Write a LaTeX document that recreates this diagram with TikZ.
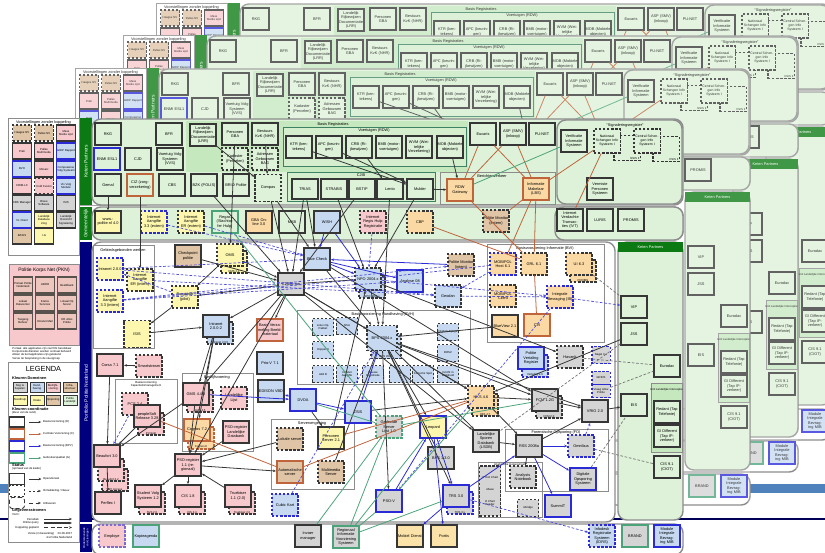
\documentclass[tikz,border=0pt]{standalone}
\usepackage{fontspec}
\setmainfont{Liberation Sans}
\usetikzlibrary{arrows.meta}

% kleuren
\definecolor{kgroen}{HTML}{DDF2D8}
\definecolor{kdonker}{HTML}{C6E8BF}
\definecolor{balkgroen}{HTML}{0B7A12}
\definecolor{navy}{HTML}{00007F}
\definecolor{roze}{HTML}{F7C9CC}
\definecolor{tan}{HTML}{DFC4A6}
\definecolor{geel}{HTML}{FCF6AE}
\definecolor{oranje}{HTML}{FBD9A5}
\definecolor{blauw}{HTML}{C6D9F1}
\definecolor{grijs}{HTML}{D4D4D4}
\definecolor{lijn}{HTML}{363636}
\definecolor{blauwrand}{HTML}{2B2BD6}
\definecolor{bruinrand}{HTML}{C0643C}
\definecolor{groenrand}{HTML}{4BA37A}
\definecolor{kader}{HTML}{8C8C8C}
\definecolor{bandblauw}{HTML}{4F81BD}

\newcommand{\klein}{\fontsize{2.2}{2.6}\selectfont}
\newcommand{\middel}{\fontsize{1.95}{2.3}\selectfont}
\newcommand{\piep}{\fontsize{1.6}{1.9}\selectfont}
\newcommand{\kop}{\fontsize{2.8}{3.2}\selectfont}

\tikzset{
  app/.style={draw=lijn, line width=0.8pt, fill=#1, minimum width=0.52cm,
    minimum height=0.44cm, inner sep=0.3pt, text width=0.5cm, align=center,
    font=\klein},
  app/.default=white,
  kapp/.style={app=#1, minimum width=0.42cm, minimum height=0.34cm, text width=0.4cm,
    line width=0.6pt, font=\piep},
  kapp/.default=blauw,
  vak/.style={draw=lijn, line width=0.7pt, minimum width=0.38cm, minimum height=0.32cm,
    inner sep=0.2pt, text width=0.36cm, align=center, font=\piep},
  swatch/.style={draw=lijn, line width=0.5pt, minimum width=0.28cm, minimum height=0.2cm,
    inner sep=0pt, text width=0.26cm, align=center, font=\piep},
  ontw/.style={dash pattern=on 1.4pt off 0.9pt},
  uitf/.style={dash pattern=on 2.4pt off 1.4pt},
  rblauw/.style={draw=blauwrand},
  rbruin/.style={draw=bruinrand},
  rgroen/.style={draw=groenrand},
  dik/.style={line width=1.1pt},
  groep/.style={draw=kader, line width=0.5pt},
  paneel/.style={draw=kader, line width=0.8pt, rounded corners=5pt},
  titel/.style={font=\klein, inner sep=0.5pt, align=center},
  balktekst/.style={rotate=90, text=white, font=\kop, inner sep=0pt, align=center},
  lz/.style={draw=lijn, line width=0.45pt, -{Stealth[length=1.7pt,width=1.4pt]}},
  lbs/.style={draw=blauwrand, line width=0.45pt, -{Stealth[length=1.7pt,width=1.4pt]}},
  lb/.style={draw=blauwrand!85, line width=0.4pt, dash pattern=on 1.5pt off 1pt,
    -{Stealth[length=1.7pt,width=1.4pt]}},
  lbr/.style={draw=bruinrand, line width=0.45pt},
  lgr/.style={draw=groenrand, line width=0.45pt},
  lgs/.style={draw=black!55, line width=0.4pt, dash pattern=on 1.5pt off 1pt},
}

% doos met schaduwversie erachter
\newcommand{\schaduw}[5]{%
  \node[app=#3, ontw, #4] (#1) at (#2) {};
  \node[titel, font=\piep, anchor=south] (#1t) at (#1.south) {#5};}

% ---- voorstellingen zonder koppeling ----
\newcommand{\kaartvzk}{%
\draw[groep, fill=white] (8,118) rectangle (79,255);
\node[titel] (vzk) at (43.5,122.5) {Voorstellingen zonder koppeling};
\foreach \x/\y/\k/\t in {66/133/roze/Mass Media Lijst, 22/151/roze/Prati, 44/151/roze/Pallas Multimedia,
    44/169/roze/Mosaic, 22/186/roze/CRIM-LC, 22/203/grijs/CBS Manager, 44/203/grijs/Brave Software,
    66/203/grijs/ISIS, 44/220/geel/Landelijk Database Zorg, 66/220/grijs/Landelijk Overzicht Signalering,
    22/236/tan/BASIS, 44/236/geel/I-G}
  \node[vak, fill=\k] (v\x-\y) at (\x,\y) {\t};
\foreach \x/\y/\k/\t in {22/133/tan/Haagse NV, 44/133/tan/Pallas NV, 44/186/roze/Cold Fusion}
  \node[vak, ontw, fill=\k] (v\x-\y) at (\x,\y) {\t};
\foreach \x/\y/\t in {66/151/GRIP Rapport, 22/169/BVH, 66/169/Compusense Volg Systeem,
    66/186/Vis Volg Module, 22/220/VL Client}
  \node[vak, rblauw, fill=blauw] (v\x-\y) at (\x,\y) {\t};
\fill[balkgroen] (80,118) rectangle (92,205);
\node[balktekst] (kpbalk) at (86,161.5) {Keten Partners};
}

% ---- PKN en legenda ----
\newcommand{\kaartlegenda}{%
\draw[groep, fill=roze] (9,264) rectangle (79,345);
\node[titel, font=\kop] (pkn) at (44,270) {Politie Korps Net (PKN)};
\foreach \x/\y/\t in {23/285/Portaal Politie Nederland, 45/285/LIBRO, 67/285/Beeldbank,
    23/303/Lokaal Datacenter, 45/303/Kratos Services, 67/303/Lokaal Op Server,
    23/321/Toegang Beheer, 45/321/Intranet Mail, 67/321/HR Alles Politie}
  \node[vak, fill=roze!60!tan, draw=lijn!80!tan, line width=1pt] (p\x-\y) at (\x,\y) {\t};
\node[titel, font=\piep, align=left] (noot) at (42,353.5)
  {Portaal: alle applicaties zijn via PKN bereikbaar\\ Korps-brede diensten worden centraal beheerd\\
   Alleen de kernapplicaties zijn getekend\\ Versie ter bespreking in de stuurgroep};
\draw[groep, fill=white] (8,362) rectangle (79,542);
\node[font=\fontsize{4.2}{4.6}\selectfont] (leg) at (43.5,369) {LEGENDA};
\node[titel, anchor=west] (legk) at (11,378) {\textbf{Kleuren Domeinen}};
\foreach \x/\y/\k/\t in {20/387/grijs/Nog te bepalen, 37/387/blauw/Hand\-having, 53/387/roze/Bedrijfs\-voering,
    70/387/tan/Infra\-structuur, 20/400/geel/Noodhulp, 37/400/geel/Intake, 53/400/tan/Opsporing,
    70/400/kgroen/Politie Landelijk}
  \node[swatch, fill=\k] (k\x-\y) at (\x,\y) {\t};
\node[titel, anchor=west, align=left] (legc) at (11,411) {\textbf{Kleuren coordinatie}\\[-0.5pt]{\piep (kleur van de rand)}};
\foreach \y/\k/\t in {422/lijn/Basisvoorziening (D), 434/bruinrand/Centrale Voorziening (C),
    446/blauwrand/Basisvoorziening (BPV), 458/groenrand/Gebruikerspakket (G)} {
  \node[swatch, draw=\k, line width=0.9pt, minimum width=0.3cm] (c\y) at (17,\y) {};
  \draw[draw=\k, line width=0.5pt, -{Stealth[length=1.6pt]}] (c\y.east) ++(4,0) -- ++(12,0);
  \node[titel, font=\piep, anchor=west] (ct\y) at (42,\y) {\t};
}
\node[titel, anchor=west, align=left] (legs) at (11,467) {\textbf{Status}\\[-0.5pt]{\piep (opmaak van de kader)}};
\node[swatch, line width=1.1pt, minimum width=0.3cm, minimum height=0.22cm] (s1) at (17,479) {};
\node[swatch, ontw, minimum width=0.3cm, minimum height=0.22cm] (s2) at (17,491) {};
\node[swatch, uitf, rounded corners=1.5pt, minimum width=0.3cm, minimum height=0.22cm] (s3) at (17,503) {};
\draw[lz, line width=0.5pt] (s1.east) ++(4,0) -- ++(12,0);
\draw[lz, line width=0.5pt, ontw] (s2.east) ++(4,0) -- ++(12,0);
\draw[lz, line width=0.5pt, uitf] (s3.east) ++(4,0) -- ++(12,0);
\node[titel, font=\piep, anchor=west] (st1) at (42,479) {Operationeel};
\node[titel, font=\piep, anchor=west] (st2) at (42,491) {Ontwikkeling / Nieuw};
\node[titel, font=\piep, anchor=west] (st3) at (42,503) {Uitfaseren};
\node[titel, anchor=west, align=left] (legg) at (11,512) {\textbf{Gegevensstromen}\\[-0.5pt]{\piep Vorm:}};
\node[titel, font=\piep, anchor=east] (g1) at (40,519) {Periodiek};
\node[titel, font=\piep, anchor=east] (g2) at (40,523) {Online query};
\node[titel, font=\piep, anchor=east] (g3) at (40,527.5) {Koppeling gepland};
\draw[lz, line width=0.5pt] (g1.east) ++(4,0) -- ++(28,0);
\draw[lz, line width=0.9pt] (g2.east) ++(4,0) -- ++(28,0);
\draw[lz, line width=0.5pt, uitf] (g3.east) ++(4,0) -- ++(28,0);
\node[titel, font=\piep, align=right] (versie) at (50,535.5) {Versie (in bewerking) \quad 20-06-2007\\ vts Politie Nederland};
% balken
\fill[balkgroen] (80,207) rectangle (92,240);
\node[balktekst] (gmbalk) at (86,223.5) {Gemeentelijk};
\fill[navy] (80,242) rectangle (92,522);
\node[balktekst] (ppbalk) at (86,393) {Portfolio Politie Nederland};
\fill[navy] (80,524) rectangle (92,552);
\node[balktekst, font=\piep] (ovbalk) at (86,538) {Ondersteunende\\voorzieningen};
}

% ---- keten partners boven: bovenste rij ----
\newcommand{\bovenrij}{%
\draw[paneel, fill=kgroen] (92,119) rectangle (683,205);
\fill[kdonker] (186,121) rectangle (468,172);
\node[titel] (basisreg) at (333,124) {Basis Registraties};
\draw[groep, draw=groenrand!80!black, fill=kdonker!40!kgroen] (283,127) rectangle (466,166);
\node[titel] (rdw) at (374,130.5) {Voertuigen (RDW)};
\node[app=kgroen] (rkg) at (108,134) {RKG};
\node[app=kgroen] (bfr) at (169,134) {BFR};
\node[app=kgroen] (lrr) at (203,135) {Landelijk Rijbewijzen Docu\-mentatie (LRR)};
\node[app=kgroen] (gba) at (235,134) {Personen GBA};
\node[app=kgroen] (kvk) at (265,134) {Bestuurs KvK (NHR)};
\foreach \n/\x/\t in {ktr/299/KTR (kentekens), apc/329/APC (keuringen), crb/359/CRB (Rijbewijzen),
    bmb/389/BMB (motor\-voertuigen), wvm/419/WVM (Wettelijke Verzekering), mob/450/MOB (Mobiele objecten)}
  \node[app=kgroen] (\n) at (\x,147) {\t};
\node[app=kgroen] (eucaris) at (483,134) {Eucaris};
\node[app=kgroen] (asp) at (513,134) {ASP (SMV) (inkoop)};
\node[app=kgroen] (punet) at (542,134) {PU-NET};
\draw[paneel, fill=kgroen] (557,120) rectangle (682,204);
\node[app=kgroen] (vis) at (574,141) {Verificatie Informatie Systeem};
\node[titel] (sigreg) at (625,125) {``Signaleringsregister''};
\node[app=kgroen, ontw, line width=0.6pt, minimum height=0.5cm] (nsis2) at (627,148) {};
\node[app=kgroen, ontw, line width=0.6pt, minimum height=0.48cm, font=\middel] (nsis) at (607,141) {Nationaal Schengen Info Systeem I};
\node[titel, font=\piep, anchor=south east] (nsis2t) at (nsis2.south east) {NSIS II};
\node[app=kgroen, ontw, line width=0.6pt, minimum height=0.5cm] (csis2) at (666,149) {};
\node[app=kgroen, ontw, line width=0.6pt, minimum height=0.48cm, font=\middel] (csis) at (647,141) {Central Schengen Info Systeem I};
\node[titel, font=\piep, anchor=south east] (csis2t) at (csis2.south east) {CSIS II};
}

% ---- keten partners boven: tweede rij ----
\newcommand{\bovenmidden}{%
\node[app=kgroen, rblauw] (enmi) at (107,159) {ENMI ESL1};
\node[app=kgroen] (cjd) at (138,159) {CJD};
\node[app=kgroen] (vvs) at (170,159) {Voertuig Volg Systeem (VVS)};
\node[app=kgroen, ontw] (kad) at (235,159) {Kadaster (Percelen)};
\node[app=kgroen, ontw] (bag) at (265,159) {Adressen Gebouwen BAG};
}

% ---- keten partners boven: onderste rij ----
\newcommand{\bovenonder}{%
\node[app=kgroen] (gemal) at (108,185) {Gemal};
\node[app=kgroen, rbruin] (ciz) at (140,185) {CIZ (zorg-\\verzekering)};
\node[app=kgroen] (cbs) at (172,185) {CBS};
\node[app=kgroen] (bzk) at (204,185) {BZK (POLIS)};
\node[app=kgroen] (brio) at (236,185) {BRIO Politie};
\node[app=kgroen, ontw, minimum height=0.54cm] (compas) at (268,188) {Compas};
\draw[groep, draw=groenrand!80!black, fill=kdonker!40!kgroen] (287,172) rectangle (435,201);
\node[titel] (cjib) at (361,175.5) {CJIB};
\foreach \n/\x/\t in {trias/305/TRIAS, strabis/334/STRABIS, bstip/362/BSTIP, lento/390/Lento, mulder/420/Mulder}
  \node[app=kgroen, minimum width=0.48cm, minimum height=0.4cm] (\n) at (\x,189) {\t};
\draw[groep, fill=kgroen] (440,172) rectangle (555,204);
\node[titel] (bericht) at (492,176) {Berichtenverkeer};
\node[app=oranje, rbruin] (rdwgw) at (460,190) {RDW Gateway};
\node[app=oranje, rbruin] (lbs) at (536,189) {Informatie Makelaar (LBS)};
\node[app=kgroen] (vps) at (600,189) {Vermiste Personen Systeem};
}

% in de oudere versies liggen de eindpunten achter de nieuwere
\newcommand{\oudeeinden}{%
\coordinate (lento) at (390,189);
\coordinate (mulder) at (420,189);
\coordinate (rdwgw) at (460,190);
\coordinate (lbs) at (536,189);
}

\newcommand{\bovenlijnen}{%
\foreach \a/\b in {ktr/mulder, apc/mulder, crb/lento, mob/rdwgw, mulder/rdwgw}
  \draw[lz] (\a) -- (\b);
\foreach \a/\b in {eucaris/lbs, asp/lbs, asp/rdwgw, nsis/lbs, eucaris/rdwgw}
  \draw[lbr] (\a) -- (\b);
\draw[lgr] (vis) -- (rdwgw);
}

% ---- gemeentelijk ----
\newcommand{\kaartketenrij}{%
\draw[paneel, fill=kgroen] (555,207) rectangle (683,240);
\node[app=kgroen] (ivt) at (570,220) {Internet Verdachte Transacties (IVT)};
\node[app=kgroen] (luris) at (600,220) {LURIS};
\node[app=kgroen] (promis) at (631,220) {PROMIS};
}
\newcommand{\kaartgemeente}{%
\draw[paneel, fill=kgroen] (92,207) rectangle (683,240);
\kaartketenrij
\node[app=geel] (wwwpol) at (108,222) {www.\-politie.nl 4.0};
\node[app=geel, ontw, rblauw] (ia33x) at (154,222) {Internet Aangifte 3.3 (extern)};
\node[app=geel, ontw] (iaerx) at (191,222) {Internet Aangifte ER (extern)};
\node[app=kgroen, rgroen] (regas) at (225,222) {Regas (Slachtoffer Hulp)};
\node[app=oranje] (gbaol) at (259,222) {GBA Online 3.0};
\node[app=kgroen] (mkb) at (292,222) {MKB};
\node[app=blauw] (wish) at (327,222) {WISH};
\node[app=roze, ontw] (irh) at (373,222) {Internet Regis Hulp Registratie};
\node[app=oranje, ontw] (cbp) at (420,222) {CBP};
\node[app=tan, ontw] (polmonx) at (496,221) {Politie Monitor (extern)};
}

% ---- portfolio politie nederland ----
\newcommand{\kaartmidden}{%
\draw[paneel, fill=white] (92,242) rectangle (615,522);
\draw[groep] (93,245) rectangle (154,348);
\node[titel] (ggw) at (123,250) {Gebiedsgebonden werken};
\draw[groep] (297,310) rectangle (470,384);
\node[titel] (bvh) at (383,314) {Basisvoorziening Handhaving (BVH)};
\draw[groep] (487,244) rectangle (604,342);
\node[titel] (bvi) at (545,248) {Basisvoorziening Informatie (BVI)};
\draw[groep] (115,379) rectangle (177,443);
\node[titel, font=\piep] (bvcm) at (146,384) {Basisvoorziening\\Capaciteitsmanagement};
\draw[groep] (182,373) rectangle (253,451);
\node[titel] (bedr) at (217,377) {Bedrijfsvoering};
\draw[groep] (271,419) rectangle (354,489);
\node[titel] (server) at (312,423) {Serveromgeving};
\draw[groep] (505,429) rectangle (608,491);
\node[titel] (fo) at (556,432.5) {Forensische Opsporing (FO)};
\draw[groep] (478,462) rectangle (542,517);
\node[titel, font=\piep] (anat) at (510,465) {Analytische toepassingen};
% noodhulp en intake
\node[app=geel, ontw, rblauw] (intra) at (110,269) {Intranet 2.0.0};
\node[app=geel, ontw] (iaeri) at (140,280) {Internet Aangifte ER (intern)};
\node[app=geel, ontw, rblauw] (ia33i) at (110,301) {Internet Aangifte 3.3 (intern)};
\node[app=geel, ontw, minimum height=0.54cm] (isis) at (137,334) {ISIS};
\node[app=tan, dik] (checkp) at (188,256) {Checkpoint politie};
\schaduw{oms2}{234,262}{geel}{}{OMS 2.0}
\node[app=geel, ontw] (oms) at (230,255) {OMS};
\node[app=geel, ontw] (burg) at (185,297) {Burgernet (pilot)};
\node[app=grijs, dik] (c2000) at (291,284) {C2000 nw};
\node[app=blauw, dik] (rapid) at (317,259) {Blue Check};
\schaduw{npo2}{372,287}{blauw}{}{NPO 2003.x}
\node[app=blauw, ontw] (npo) at (368,279) {NPO 2004.x};
\node[app=blauw, rblauw, dik] (analyse) at (410,281) {Analyse 08};
\node[app=blauw, ontw] (geodan) at (448,296) {Geodan};
\node[app=tan, ontw] (polmoni) at (461,265) {Politie Monitor (intern)};
\schaduw{intrane2}{220,333}{blauw}{}{Intranet 2.0.5}
\node[app=blauw, dik] (intrane) at (216,326) {Intranet 2.0.0-2};
\node[app=roze, rbruin, dik] (bvz) at (270,330) {Basis Verzameling Beeld\-materiaal};
\node[app=blauw, dik] (prio) at (270,363) {Prio-V 7.1};
% handhaving
\node[kapp, ontw] (lotus) at (323,327) {Lotus Op. Pakket};
\node[kapp, ontw] (nsa) at (347,326) {NSA};
\node[kapp, ontw] (hopper) at (323,350) {Hopper 6};
\schaduw{bps2}{386,346}{blauw}{minimum width=0.6cm, minimum height=0.5cm}{BPS 2003}
\node[app=blauw, ontw, minimum width=0.6cm, minimum height=0.5cm] (bps) at (382,338) {BPS 2004.x};
\node[kapp, ontw] (digib) at (448,332) {Digitale Bijlage};
\node[kapp, ontw] (bosz) at (448,353) {BOSZ};
\foreach \n/\x/\t in {addb/323/Add B, iaang/347/Intranet Aangifte, blauwe/373/Blauwe Registratie,
    vk/400/VK, corr/423/Correctie Spot, inzicht/448/Inzicht in Veiligheid}
  \node[kapp, ontw] (\n) at (\x,374) {\t};
% informatie
\node[app=oranje, ontw, rblauw] (mobipol) at (503,264) {MOBIPOL Host 6.1};
\node[app=oranje, ontw] (grl) at (534,264) {GRL 6.1};
\schaduw{ui2}{583,271}{oranje}{}{PROBIS}
\node[app=oranje, ontw] (ui) at (579,264) {UI 6.3};
\node[app=oranje, ontw] (mobic) at (503,296) {MOBIPOL Client};
\node[app=oranje, ontw, rblauw] (ib) at (560,297) {Integrale Bevraging (IB)};
\node[app=oranje, dik] (blv) at (505,326) {BlueView 2.1};
\node[app=oranje, rbruin, dik] (cvi) at (537,325) {CVI};
\schaduw{vertaal2}{535,366}{blauw}{rblauw}{Vertaling 2.0}
\node[app=blauw, rblauw, dik] (vertaal) at (531,358) {Politie Vertaling Register};
\node[app=grijs, ontw] (havank) at (570,357) {Havank};
\node[kapp=grijs, ontw, rblauw, minimum width=0.36cm, text width=0.34cm] (nagel) at (601,355) {Nagel 3.1};
\node[kapp=grijs, ontw, rblauw, minimum width=0.36cm, text width=0.34cm, minimum height=0.26cm] (grids) at (601,378) {GRIDS};
\node[kapp=grijs, ontw, rblauw, minimum width=0.36cm, text width=0.34cm, minimum height=0.26cm] (vap) at (601,391) {Vraag Antw Politie};
% bedrijfsvoering
\node[app=roze, dik] (corsa) at (110,365) {Corsa 7.1};
\node[app=roze, ontw] (smart) at (149,366) {Smart\-stream};
\node[app=roze, ontw] (pcs) at (135,404) {PCS 2.4};
\schaduw{psoft2}{151,424}{roze}{}{P-Direkt}
\node[app=roze, dik] (psoft) at (147,416) {peopleSoft Release 3.28};
\schaduw{beau3}{115,480}{roze}{}{BPI Access}
\schaduw{beau2}{111,470}{roze}{}{Beaufort 3.2}
\node[app=roze, dik] (beau) at (107,456) {Beaufort 3.0};
\node[app=roze, dik] (perflex) at (108,503) {Perflex I};
\schaduw{svs2}{152,503}{roze}{}{SVS 2.0}
\node[app=roze, dik] (svs) at (148,496) {Student Volg Systeem 1.2};
\schaduw{cis2}{192,503}{roze}{}{CIS 2.4}
\node[app=roze, dik] (cis18) at (188,496) {CIS 1.8};
\schaduw{trueb2}{242,503}{roze}{}{Truebiser 2.0}
\node[app=roze, dik] (trueb) at (238,496) {Truebiser 1.1 (2.0)};
\node[app=roze, dik] (psoreg) at (188,465) {PSO-register 1.1 (regionaal)};
\schaduw{gms2}{200,401}{roze}{}{GMS 4.5}
\node[app=roze, dik] (gms) at (196,394) {GMS 4.4.3};
\node[app=roze, ontw] (lglijst) at (234,398) {Landelijke Lijst};
\schaduw{cognos2}{201,438}{oranje}{rbruin}{Cognos 8}
\node[app=oranje, rbruin, dik] (cognos) at (197,430) {Cognos 7.2};
\node[app=roze, dik] (psolnd) at (236,432) {PSO-register Landelijke Databank};
\node[app=blauw, dik] (edison) at (271,391) {EDISON VBD};
\node[app=blauw, rblauw, line width=1.3pt] (dvoa) at (303,400) {DVOA};
\node[app=blauw, rblauw, dik] (zsis) at (358,412) {ZSIS};
\node[app=tan, ontw] (lokale) at (290,439) {Lokale server};
\node[app=geel, dik] (persserv) at (331,438) {Personen Server 2.1};
\node[app=tan, rbruin, dik] (autom) at (290,472) {Automatische server};
\node[app=tan, ontw] (multi) at (331,472) {Multimedia Server};
\node[app=blauw, ontw, rblauw] (cubic) at (285,505) {Cubic Kart};
\node[app=grijs, ontw, rgroen] (gsl) at (389,427) {Gedeelde Server Lijst 1.0};
\node[app=geel, rblauw, dik] (leopard) at (433,427) {Leopard};
\node[app=grijs, rblauw, dik] (psov) at (389,501) {PSO-V};
\schaduw{trs2}{460,503}{grijs}{rblauw}{TRS 3.x}
\node[app=grijs, rblauw, dik] (trs) at (456,496) {TRS 3.0};
\node[app=grijs, dik] (bps13) at (441,458) {BPS 1.3.0};
% opsporing
\schaduw{hks2}{485,405}{oranje}{}{HKS 4.7}
\node[app=oranje, ontw] (hks) at (481,397) {HKS 4.6};
\schaduw{fcm2}{549,407}{grijs}{}{FCM 2.0}
\node[app=grijs, dik] (fcm) at (545,400) {FCM 1.2G};
\node[app=grijs, dik] (vrio) at (595,411) {VRIO 2.0};
\node[app=grijs, dik] (lsdb) at (486,441) {Landelijke Sporen Databank (LSDB)};
\node[app=grijs, dik] (rss) at (529,446) {RSS 2008a};
\node[app=grijs, ontw, rblauw] (omnibus) at (581,446) {Omnibus};
\node[app=grijs, rblauw, dik] (dos) at (583,479) {Digitale Opsporing Systeem};
\node[app=grijs, ontw] (ann) at (523,477) {Analysts Notebook};
\node[kapp=grijs, ontw, minimum height=1cm] (i2kol) at (490,491) {i2 Text Chart\\[5pt] i-Base\\[5pt] i2 Chart Reader};
\node[kapp=grijs, ontw] (ibridge) at (528,508) {i-Bridge};
\node[app=grijs, rblauw, dik] (summit) at (558,506) {SummIT};
}

% ---- keten partners rechts ----
\newcommand{\kaartrechts}{%
\draw[paneel, fill=kgroen] (618,242) rectangle (683,520);
\fill[balkgroen] (618,242) rectangle (683,252);
\node[titel, text=white] (ketenkop) at (650.5,247) {Keten Partners};
\node[app=kgroen] (vip) at (634,307) {VIP};
\node[app=kgroen] (jss) at (634,334) {JSS};
\node[app=kgroen] (eurodac) at (667,366) {Eurodac};
\node[app=kgroen] (eis) at (634,405) {EIS};
\draw[groep, fill=kdonker] (651,383) rectangle (682,452);
\node[titel, font=\piep] (uli) at (666.5,390) {Unit Landelijke Interceptie};
\node[app=kgroen] (redant) at (667,412) {Redant (Tap Telefonie)};
\node[app=kgroen] (gidiff) at (667,436) {GI Different (Tap IP-verkeer)};
\node[app=kgroen] (cis91) at (667,467) {CIS 9.1 (CIOT)};
}

% ---- ondersteunende voorzieningen ----
\newcommand{\kaartonderrechts}{%
\draw[paneel, fill=white] (92,524) rectangle (683,555);
\node[app=blauw, ontw, rblauw] (idrs) at (602,536) {Infodesk Registratie Systeem (IDRS)};
\node[app=grijs, rgroen] (brand) at (635,536) {BRAND};
\node[app=blauw, rblauw, dik] (mib) at (667,536) {Module Integrale Bevraging MIB};
}
\newcommand{\kaartonder}{%
\kaartonderrechts
\node[app=roze, ontw, draw=blauwrand!60!roze] (employ) at (112,536) {Employe};
\node[app=blauw, rgroen] (kopie) at (146,536) {Kopie\-agenda};
\node[app=grijs] (invoer) at (308,536) {Invoer manager};
\node[app=grijs, rgroen] (rivs) at (346,537) {Regionaal Informatie Voorziening Systeem};
\node[app=oranje!70!geel] (mobiel) at (410,536) {Mobiel Dienst};
\node[app=oranje!70!geel] (portis) at (444,536) {Portis};
}

% ---- koppelingen van de huidige versie ----
\newcommand{\kaartlijnen}{%
\foreach \a/\b in {lrr/compas, gba/oms, kvk/compas, gemal/wwwpol, ciz/iaeri, bzk/c2000,
    trias/c2000, strabis/npo, mulder/npo,
    compas/c2000, compas/rapid, c2000/intrane, c2000/burg, c2000/bvz, c2000/npo, c2000/bps,
    c2000/gms, c2000/psoreg, c2000/hks, c2000/lsdb, rapid/bps, rapid/fcm, npo/bps, bps/hks,
    bps/vrio, bps/fcm, bps/lsdb, bps/trs, bps/psov, bps/leopard, intrane/gms, intrane/psoreg,
    intrane/cognos, burg/isis, oms/burg, oms/c2000, gms/beau, gms/psoreg, psoft/beau,
    beau/perflex, psoreg/svs, psoreg/cis18, psoreg/autom, psolnd/psoreg, dvoa/persserv,
    lsdb/rss, hks/rss, hks/fcm, fcm/vrio, rss/vrio, rss/ann, vrio/eis, jss/hks, multi/bps,
    persserv/npo, smart/corsa, isis/intrane, checkp/c2000, zsis/hks, npo/havank, blv/bps,
    corsa/beau, trueb/psoreg, bps13/bps, lokale/psoreg, trias/rapid, bstip/c2000, lento/bps}
  \draw[lz] (\a) -- (\b);
\foreach \a/\b in {wish/rapid, rapid/npo, rapid/analyse, gms/dvoa, dvoa/zsis, leopard/trs,
    psov/leopard, trs/rss, rss/summit, rss/omnibus, polmoni/rapid, leopard/portis, trs/mobiel,
    wish/npo, bps/zsis, dvoa/edison, rss/dos}
  \draw[lbs] (\a) -- (\b);
\foreach \a/\b in {ia33x/rapid, iaerx/rapid, ia33i/npo, intra/rapid, iaeri/geodan, ia33i/polmoni,
    ib/vip, npo/ib, mobipol/geodan, ib/psov, cubic/bps, omnibus/vrio, trs/idrs, intra/geodan,
    ia33i/analyse, irh/npo, mobipol/npo, geodan/ib, burg/intra, pcs/beau}
  \draw[lb] (\a) -- (\b);
\foreach \a/\b in {nsis/ivt, lbs/polmonx, rdwgw/grl, lbs/grl, lbs/mobipol, psoft/autom,
    autom/hks, cvi/grl, persserv/hks, cbp/grl}
  \draw[lbr] (\a) -- (\b);
\foreach \a/\b in {regas/gsl, dvoa/gsl, gsl/rivs, gsl/invoer, psov/rivs, trs/rivs,
    fcm/gsl, hks/psov, leopard/rivs}
  \draw[lgr] (\a) -- (\b);
\foreach \a/\b in {ui/vip, havank/eurodac, omnibus/cis91, dos/eis, vap/eurodac, jss/lsdb}
  \draw[lgs] (\a) -- (\b);
}

% oudere versie: alleen wat achter de huidige uitsteekt
\newcommand{\oudeversie}[1]{%
  \kaartvzk
  \bovenrij
  #1
  \oudeeinden
  \bovenlijnen
  \kaartketenrij
  \kaartrechts
  \kaartonderrechts
  \fill[white, opacity=0.22] (8,118) rectangle (683,552);
}

\begin{document}
\begin{tikzpicture}[x=0.02cm, y=-0.02cm]
\useasboundingbox (0,0) rectangle (825,552);
% achtergrond van de dia
\fill[white] (0,0) rectangle (825,552);
\fill[bandblauw] (0,484) rectangle (825,493);
\fill[navy!70!black] (0,517.5) rectangle (825,519.5);
% oudere versies, naar achteren geschoven
\begin{scope}[shift={(148,-115)}]
  \oudeversie{}
\end{scope}
\begin{scope}[shift={(115,-83)}]
  \oudeversie{}
\end{scope}
\begin{scope}[shift={(67,-50)}]
  \oudeversie{\bovenmidden}
\end{scope}
% huidige versie
\kaartvzk
\kaartlegenda
\bovenrij
\bovenmidden
\bovenonder
\bovenlijnen
\kaartgemeente
\kaartmidden
\kaartrechts
\kaartonder
\kaartlijnen
\end{tikzpicture}
\end{document}
